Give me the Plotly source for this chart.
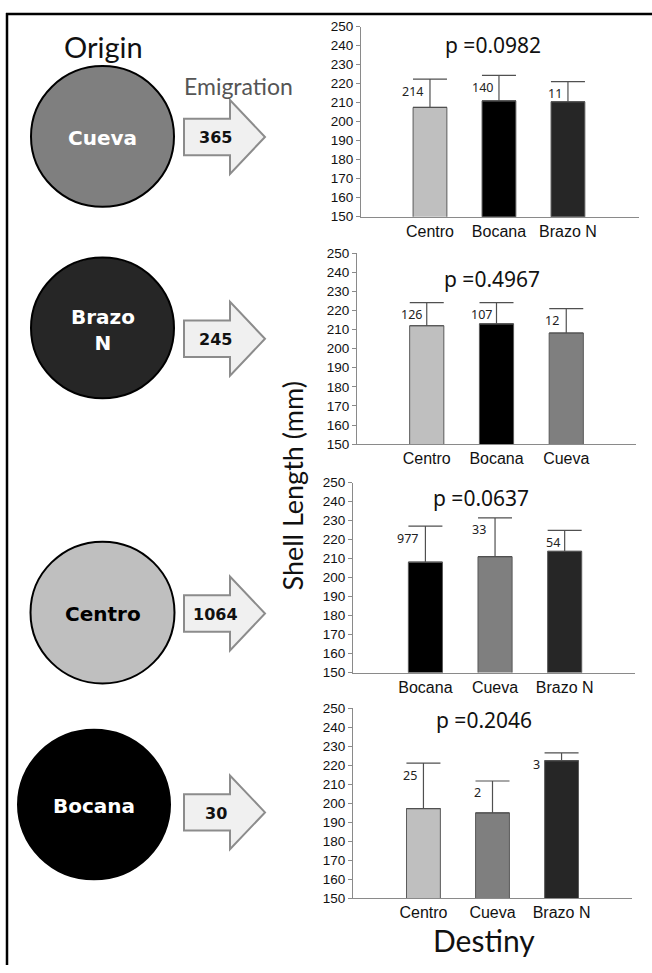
import plotly.graph_objects as go

# ---------------- data ----------------
origins = ["Cueva", "Brazo N", "Centro", "Bocana"]
emigrants = [365, 245, 1064, 30]

dest_cueva = ["Centro", "Bocana", "Brazo N"]
mean_cueva = [207.5, 211.0, 210.5]
sd_cueva = [14.9, 13.4, 10.6]
n_cueva = [214, 140, 11]
p_cueva = "0.0982"

dest_brazo = ["Centro", "Bocana", "Cueva"]
mean_brazo = [212.0, 213.0, 208.2]
sd_brazo = [12.1, 11.1, 12.8]
n_brazo = [126, 107, 12]
p_brazo = "0.4967"

dest_centro = ["Bocana", "Cueva", "Brazo N"]
mean_centro = [208.1, 211.0, 213.8]
sd_centro = [19.0, 20.4, 11.0]
n_centro = [977, 33, 54]
p_centro = "0.0637"

dest_bocana = ["Centro", "Cueva", "Brazo N"]
mean_bocana = [197.1, 194.8, 222.3]
sd_bocana = [23.9, 16.8, 4.1]
n_bocana = [25, 2, 3]
p_bocana = "0.2046"

y_ticks = list(range(150, 251, 10))

# ---------------- styling ----------------
W, H = 652, 973
site_fill = {"Centro": "#bfbfbf", "Bocana": "#000000", "Brazo N": "#262626", "Cueva": "#7f7f7f"}
site_text = {"Centro": "#000000", "Bocana": "#ffffff", "Brazo N": "#ffffff", "Cueva": "#ffffff"}

# pixel boxes of the four plot areas: left, right, top, bottom
panel_px = [(361, 639, 20, 213), (357, 636, 250, 444), (353, 635, 483, 676), (353, 632, 712, 905)]
panel_xrange = [(-1.0, 3.03), (-1.0, 3.0), (-1.04, 3.01), (-1.02, 3.02)]
p_pos = [(493, 39), (492, 276), (481, 499), (484, 724)]
n_xshift = [[-5, -4, -4], [-3, -2, -5], [-5, -7, -3], [-4, -10, -20]]
circle_px = [(102.5, 131.5, 71.5), (102.5, 326, 71.5), (102.5, 615, 72), (94, 810, 76)]
arrow_cy = [132, 337, 616, 818]


def px(x):
    return x / W


def py(y):
    return 1 - y / H


panels = [
    (dest_cueva, mean_cueva, sd_cueva, n_cueva, p_cueva),
    (dest_brazo, mean_brazo, sd_brazo, n_brazo, p_brazo),
    (dest_centro, mean_centro, sd_centro, n_centro, p_centro),
    (dest_bocana, mean_bocana, sd_bocana, n_bocana, p_bocana),
]

fig = go.Figure()
layout = dict(
    width=W, height=H, margin=dict(l=0, r=0, t=0, b=0),
    paper_bgcolor="white", plot_bgcolor="white", showlegend=False,
)
annotations = []
shapes = []

for i, (dest, mean, sd, n, p) in enumerate(panels):
    k = "" if i == 0 else str(i + 1)
    left, right, top, bottom = panel_px[i]
    fig.add_trace(go.Bar(
        x=dest, y=mean,
        marker=dict(color=[site_fill[d] for d in dest], line=dict(color="#5a5a5a", width=1)),
        width=0.49,
        error_y=dict(type="data", symmetric=False, array=sd, arrayminus=[0] * len(sd),
                     color="#505050", thickness=1.2, width=17),
        xaxis="x" + k, yaxis="y" + k, base=0,
    ))
    layout["xaxis" + k] = dict(
        domain=[px(left), px(right)], anchor="y" + k,
        type="category", categoryorder="array", categoryarray=dest,
        range=list(panel_xrange[i]), showline=True, linecolor="#8a8a8a", linewidth=1,
        showgrid=False, zeroline=False, ticks="",
        tickfont=dict(family="Liberation Sans, Arial", size=16, color="#111"),
        fixedrange=True,
    )
    layout["yaxis" + k] = dict(
        domain=[py(bottom), py(top)], anchor="x" + k,
        range=[150, 250], tickvals=y_ticks, showline=True, linecolor="#8a8a8a", linewidth=1,
        ticks="outside", ticklen=4, tickcolor="#8a8a8a", showgrid=False, zeroline=False,
        tickfont=dict(family="Liberation Sans, Arial", size=13.5, color="#111"),
        fixedrange=True,
    )
    for j, d in enumerate(dest):
        annotations.append(dict(
            x=d, y=mean[j] + sd[j], xref="x" + k, yref="y" + k,
            text=str(n[j]), showarrow=False, xanchor="right", yanchor="middle",
            xshift=n_xshift[i][j], yshift=-12,
            font=dict(family="Noto Sans", size=12.5, color="#222"),
        ))
    annotations.append(dict(
        x=px(p_pos[i][0]), y=py(p_pos[i][1]), xref="paper", yref="paper",
        text="p =" + p, showarrow=False, xanchor="center", yanchor="middle",
        font=dict(family="Noto Sans", size=21, color="#111"),
    ))

# origin circles and emigration arrows
for i, site in enumerate(origins):
    cx, cy, r = circle_px[i]
    shapes.append(dict(
        type="circle", xref="paper", yref="paper",
        x0=px(cx - r), x1=px(cx + r), y0=py(cy + r), y1=py(cy - r),
        fillcolor=site_fill[site], line=dict(color="#000", width=2), layer="below",
    ))
    label = "Brazo<br>N" if site == "Brazo N" else site
    annotations.append(dict(
        x=px(cx), y=py(cy + 2), xref="paper", yref="paper", text="<b>" + label + "</b>",
        showarrow=False, xanchor="center", yanchor="middle",
        font=dict(family="DejaVu Sans", size=20, color=site_text[site]),
    ))
    ay = arrow_cy[i]
    x0, xn, xt, bh, hh = 184, 230, 265, 18.5, 37.5
    pts = [(x0, ay - bh), (xn, ay - bh), (xn, ay - hh), (xt, ay), (xn, ay + hh),
           (xn, ay + bh), (x0, ay + bh)]
    path = "M " + " L ".join(f"{px(a):.5f},{py(b):.5f}" for a, b in pts) + " Z"
    shapes.append(dict(
        type="path", xref="paper", yref="paper", path=path,
        fillcolor="#f0f0f0", line=dict(color="#8c8c8c", width=2), layer="below",
    ))
    annotations.append(dict(
        x=px(216), y=py(ay + 1), xref="paper", yref="paper", text="<b>" + str(emigrants[i]) + "</b>",
        showarrow=False, xanchor="center", yanchor="middle",
        font=dict(family="DejaVu Sans", size=16, color="#111"),
    ))

# headings
annotations += [
    dict(x=px(103), y=py(40), xref="paper", yref="paper", text="Origin", showarrow=False,
         xanchor="center", yanchor="middle", font=dict(family="Lato", size=29, color="#111")),
    dict(x=px(238), y=py(80), xref="paper", yref="paper", text="Emigration", showarrow=False,
         xanchor="center", yanchor="middle", font=dict(family="Lato", size=23, color="#555")),
    dict(x=px(292), y=py(487), xref="paper", yref="paper", text="Shell Length (mm)", showarrow=False,
         textangle=-90, xanchor="center", yanchor="middle",
         font=dict(family="Lato", size=27, color="#111")),
    dict(x=px(484), y=py(948), xref="paper", yref="paper", text="Destiny", showarrow=False,
         xanchor="center", yanchor="middle", font=dict(family="Lato", size=30, color="#111")),
]

# outer frame (left and top edges)
shapes += [
    dict(type="line", xref="paper", yref="paper", x0=px(7), x1=px(7), y0=0, y1=py(6),
         line=dict(color="#000", width=2.5)),
    dict(type="line", xref="paper", yref="paper", x0=px(6), x1=1, y0=py(7), y1=py(7),
         line=dict(color="#000", width=2.5)),
]

layout["annotations"] = annotations
layout["shapes"] = shapes
fig.update_layout(**layout)
fig.write_html("out.html")
